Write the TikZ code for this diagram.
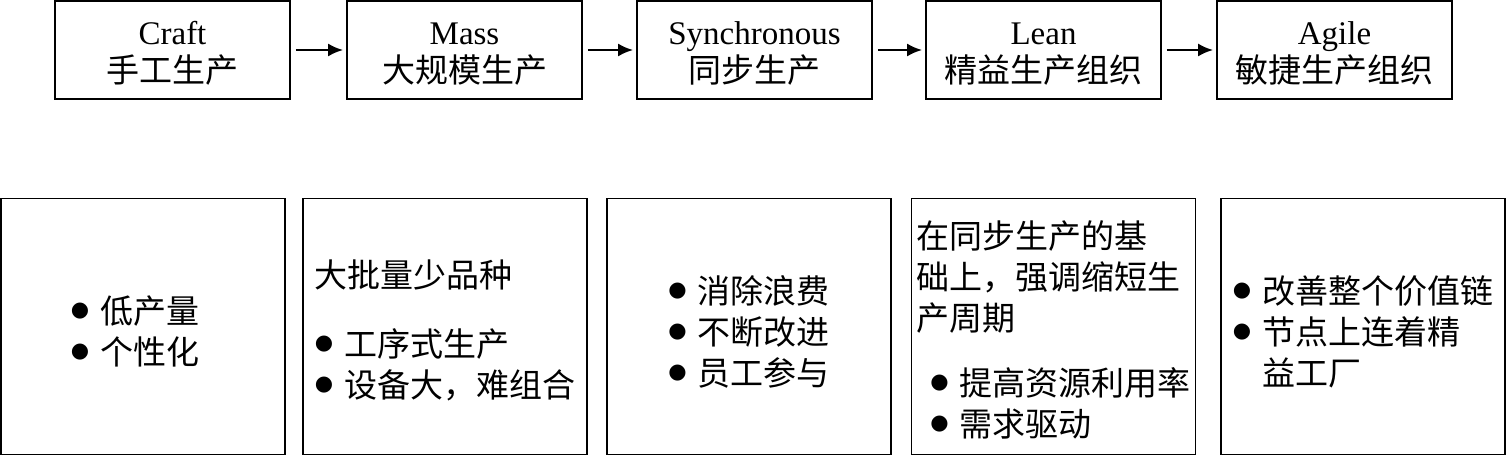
\documentclass[tikz,border=0pt]{standalone}
\usepackage{fontspec}
\setmainfont{Noto Sans CJK SC}
\newfontfamily\latin{Liberation Serif}
\newfontfamily\dejavu{DejaVu Sans}
\usetikzlibrary{arrows.meta}
\newcommand{\itm}{\raisebox{7pt}{\fontsize{21}{21}\dejavu ●}\hspace{11pt}}
\newcommand{\topgap}[1]{\rule{0pt}{#1}}

\begin{document}
\begin{tikzpicture}[x=1pt,y=-1pt,
  stage/.style={draw=black,line width=1.6pt,minimum width=235pt,minimum height=98pt,align=center,inner sep=0pt,font=\fontsize{33}{38}\selectfont},
  note/.style={draw=black,line width=1.6pt,minimum width=284pt,minimum height=256pt,align=left,inner sep=0pt,font=\fontsize{33}{41}\selectfont},
  flow/.style={-{Latex[length=15pt,width=13pt]},line width=2.6pt,shorten <=5pt,shorten >=3pt}]
  \useasboundingbox (0,0) rectangle (1507,457);
  % stages along the top
  \node[stage] at (172.5,50) (craft) {\topgap{30pt}{\latin Craft}\\手工生产};
  \node[stage] at (464.5,50) (mass) {\topgap{30pt}{\latin Mass}\\大规模生产};
  \node[stage] at (754.5,50) (sync) {\topgap{30pt}{\latin Synchronous}\\同步生产};
  \node[stage] at (1043.5,50) (lean) {\topgap{30pt}{\latin Lean}\\精益生产组织};
  \node[stage] at (1334.5,50) (agile) {\topgap{30pt}{\latin Agile}\\敏捷生产组织};

  \draw[flow] (craft) -- (mass);
  \draw[flow] (mass) -- (sync);
  \draw[flow] (sync) -- (lean);
  \draw[flow] (lean) -- (agile);

  % features of each stage
  \node[note] at (143,326.5) (craftNote) {\topgap{38pt}\itm 低产量\hspace*{16pt}\\\itm 个性化};
  \node[note] at (445,326.5) (massNote) {\topgap{36pt}大批量少品种\\[28pt]\itm 工序式生产\\\itm 设备大，难组合};
  \node[note] at (749,326.5) (syncNote) {\topgap{38pt}\itm 消除浪费\\\itm 不断改进\\\itm 员工参与};
  \node[note] at (1053.5,326.5) (leanNote) {\topgap{34pt}在同步生产的基\\础上，强调缩短生\\产周期\\[24pt]\hspace*{14pt}\itm 提高资源利用率\\\hspace*{14pt}\itm 需求驱动};
  \node[note] at (1363,326.5) (agileNote) {\topgap{38pt}\itm 改善整个价值链\\\itm 节点上连着精\\\phantom{\itm}益工厂};
\end{tikzpicture}
\end{document}
